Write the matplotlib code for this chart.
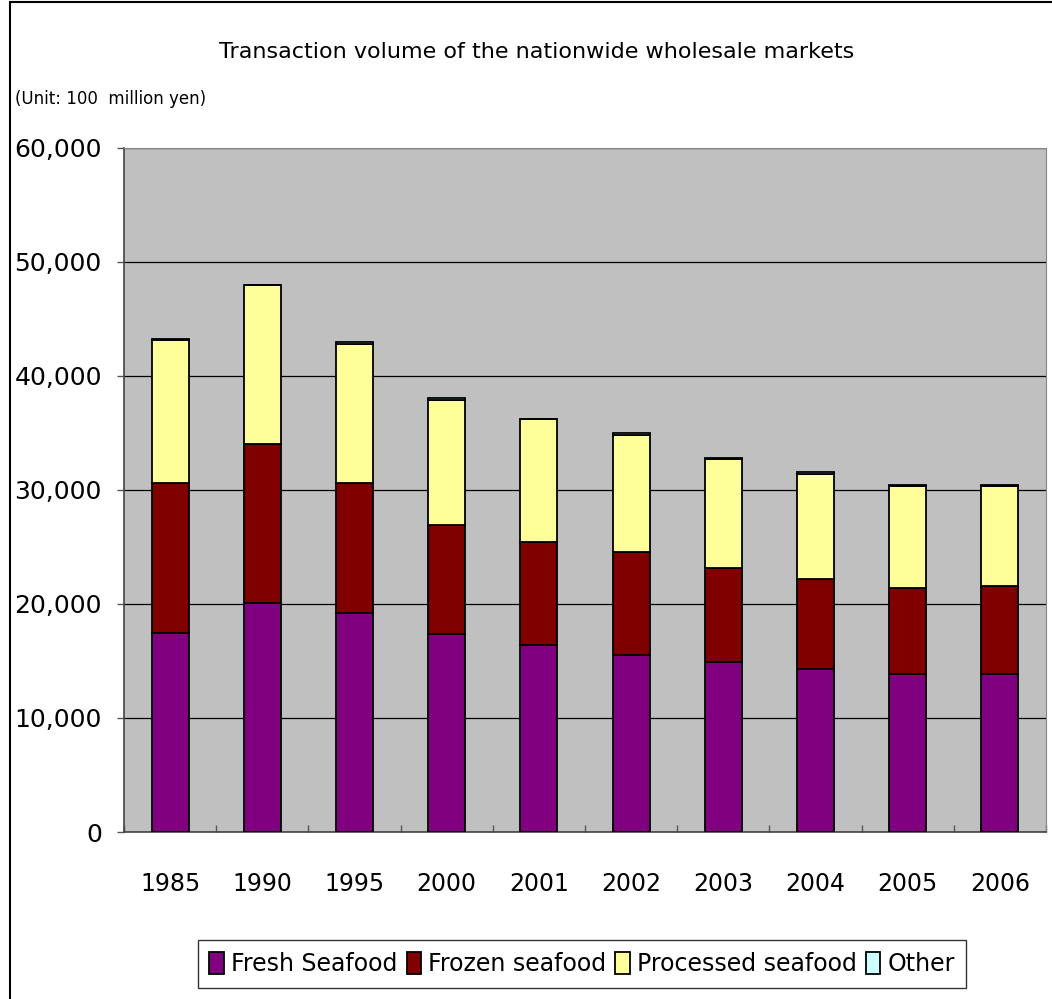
import numpy as np
import matplotlib
matplotlib.use('Agg')
import matplotlib.pyplot as plt
from matplotlib.patches import Rectangle

years = ['1985', '1990', '1995', '2000', '2001', '2002', '2003', '2004', '2005', '2006']
fresh = [17500, 20100, 19200, 17400, 16400, 15500, 14900, 14300, 13900, 13900]
frozen = [13100, 13900, 11400, 9500, 9000, 9100, 8300, 7900, 7500, 7650]
processed = [12600, 14000, 12200, 11000, 10800, 10250, 9500, 9200, 8980, 8830]
other = [20, 20, 200, 150, 20, 150, 150, 150, 20, 20]

series = [
    ('Fresh Seafood', fresh, '#800080'),
    ('Frozen seafood', frozen, '#800000'),
    ('Processed seafood', processed, '#FFFF99'),
    ('Other', other, '#CCFFFF'),
]

plt.rcParams.update({'font.family': 'DejaVu Sans'})

fig = plt.figure(figsize=(10.52, 9.99), dpi=100)
fig.patches.append(Rectangle((10 / 1052, -0.01), 1.05, 1 - 2 / 999 + 0.01, transform=fig.transFigure,
                             fill=False, edgecolor='black', linewidth=1.5))
ax = fig.add_axes([124 / 1052, 1 - 832 / 999, 922 / 1052, 684 / 999])
ax.set_facecolor('#C0C0C0')

x = np.arange(len(years))
bottom = np.zeros(len(years))
handles = []
for label, vals, color in series:
    vals = np.array(vals, dtype=float)
    b = ax.bar(x, vals, bottom=bottom, width=0.4, color=color, edgecolor='black', linewidth=1.3,
               label=label, zorder=3)
    handles.append(b)
    bottom += vals

ax.set_xlim(-0.5, len(years) - 0.5)
ax.set_ylim(0, 60000)
ax.set_yticks(np.arange(0, 60001, 10000))
ax.set_yticklabels([f'{v:,}' for v in range(0, 60001, 10000)], fontsize=18)
ax.yaxis.grid(True, color='black', linewidth=0.9, zorder=1)
ax.set_axisbelow(True)
ax.tick_params(axis='y', direction='out', length=5, width=1, color='#555555', pad=11)

ax.set_xticks(x)
ax.set_xticklabels(years, fontsize=17)
ax.tick_params(axis='x', length=0, pad=29)
ax.set_xticks(np.arange(-0.5, len(years)), minor=True)
ax.tick_params(axis='x', which='minor', direction='in', length=5, width=1, color='#555555')

for s in ['top', 'right']:
    ax.spines[s].set_color('#888888')
for s in ['left', 'bottom']:
    ax.spines[s].set_color('#444444')
    ax.spines[s].set_linewidth(1.2)

fig.text(537 / 1052, 1 - 52 / 999, 'Transaction volume of the nationwide wholesale markets',
         ha='center', va='center', fontsize=16)
fig.text(15 / 1052, 1 - 99 / 999, '(Unit: 100  million yen)', ha='left', va='center', fontsize=12)

leg = fig.legend(handles=handles, loc='center', bbox_to_anchor=(582 / 1052, 1 - 964 / 999), ncol=4,
                 fontsize=17, frameon=True, fancybox=False, edgecolor='black', handlelength=0.6,
                 handleheight=1.1, handletextpad=0.3, columnspacing=0.4, borderpad=0.5)
leg.get_frame().set_linewidth(1)

fig.savefig('out.png', dpi=100)
